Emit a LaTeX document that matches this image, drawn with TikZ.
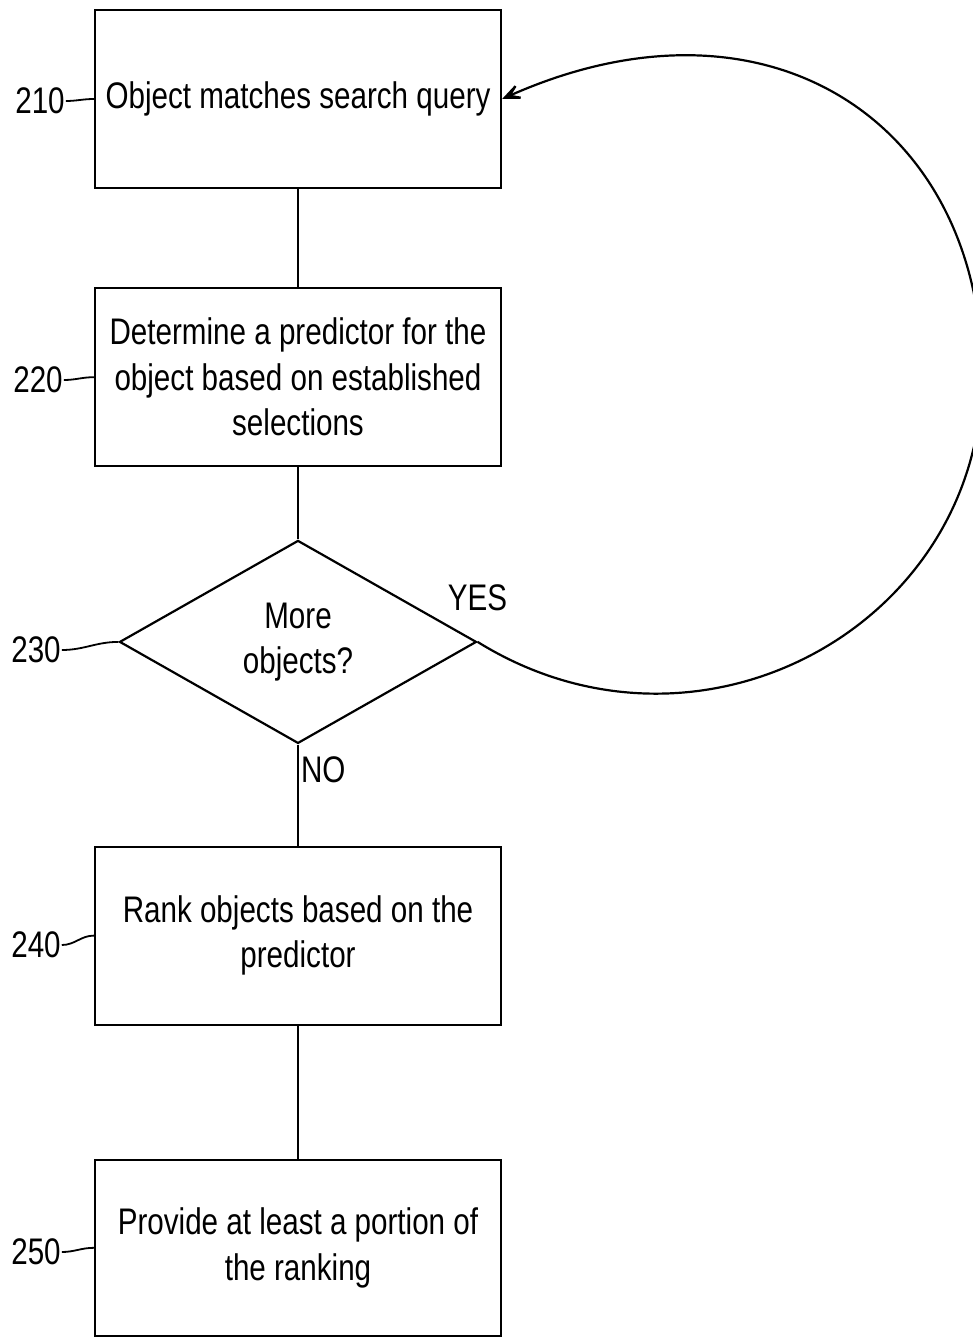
\documentclass[tikz,border=0pt]{standalone}
\usepackage{fontspec}
\setmainfont{Liberation Sans}[FakeStretch=0.8]
\usetikzlibrary{shapes.geometric,positioning,arrows.meta}

\begin{document}
\begin{tikzpicture}[x=1pt,y=-1pt,line width=2.2pt,
  every node/.style={font=\fontsize{37}{45.5}\selectfont,inner sep=0pt}]
\tikzstyle{block}=[draw,rectangle,minimum width=406pt,minimum height=178pt,align=center]
\tikzstyle{decision}=[draw,diamond,minimum width=357pt,minimum height=203pt,align=center]
\tikzstyle{tag}=[anchor=center]
\tikzstyle{loopback}=[-{Stealth[length=28pt,width=24pt,inset=18pt]}]

\clip (0,0) rectangle (973,1340);

\node [block] at (298,99) (query) {Object matches search query};
\node [block,below=98pt of query] (pred) {Determine a predictor for the\\object based on established\\selections};
\node [decision,below=72pt of pred] (more) {More\\objects?};
\node [block,below=101pt of more] (rank) {Rank objects based on the\\predictor};
\node [block,below=133pt of rank,minimum height=176pt] (prov) {Provide at least a portion of\\the ranking};

\node [tag] at (40,101) (l210) {210};
\node [tag] at (38,380) (l220) {220};
\node [tag] at (36,650) (l230) {230};
\node [tag] at (36,945) (l240) {240};
\node [tag] at (36,1252) (l250) {250};
\node [above=30pt of more.east] (yes) {YES};
\coordinate (farside) at (982,375);

\path
 (query) edge (pred)
 (pred) edge (more)
 (more) edge node[near start,right=2pt] {NO} (rank)
 (rank) edge (prov);

\path[line width=1.8pt]
 (l210.east) edge[out=0,in=180] (query.west)
 (l220.east) edge[out=0,in=180] (pred.west)
 (l230.east) edge[out=0,in=180] (more.west)
 (l240.east) edge[out=0,in=180] (rank.west)
 (l250.east) edge[out=0,in=180] (prov.west);

\draw [loopback] (more.east) .. controls (700,780) and (982,625) .. (farside)
  .. controls (982,125) and (770,-20) .. (query.east);
\end{tikzpicture}
\end{document}
